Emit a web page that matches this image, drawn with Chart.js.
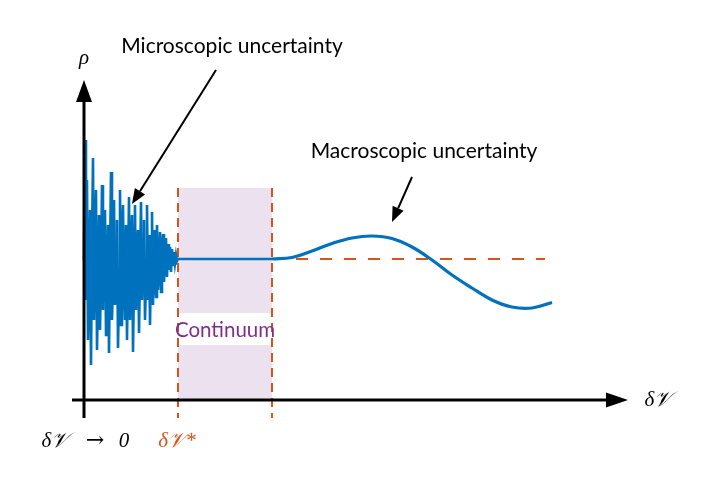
<!DOCTYPE html>
<html>
<head>
<meta charset="utf-8">
<script src="https://cdn.jsdelivr.net/npm/chart.js@4/dist/chart.umd.min.js"></script>
<style>
  html, body { margin: 0; padding: 0; background: #fff; }
  canvas { display: block; }
</style>
</head>
<body>
<canvas id="grafico" width="714" height="485"></canvas>
<script>
// ruido microscopico (passo de 0.1 em dV, de 0 ate 9.4)
const passoRuido = 0.1;
const ruidoY = [
  14, 26, 10, 22, 6, 12, 19, 3.5, 16, 24.2,
  8, 15, 21, 5, 11, 18.5, 7, 13, 21.5, 9,
  17, 19, 6.5, 12, 17.5, 4.7, 14, 22.8, 8, 12,
  20, 9.5, 15, 18, 5.2, 11, 21, 7.5, 16, 19.5,
  11, 8, 17.5, 6, 13, 20.3, 8, 15, 18.5, 4.8,
  12, 19.5, 9, 14, 17, 6.7, 13, 19.8, 10, 15,
  18, 8, 12, 19.5, 10, 16.5, 7.5, 14, 18.8, 9.5,
  17, 12, 10.3, 17.5, 11, 13, 16.8, 10.8, 15, 16.6,
  11.8, 14, 16.2, 12.3, 15.6, 13, 15.3, 12.8, 15.1, 13.5,
  14.8, 13.7, 14.5, 13.9, 14.1
];

// curva macroscopica (depois do continuo)
const curvaX = [18.8, 20.8, 22.8, 24.8, 26.8, 28.8, 30.8, 32.8, 34.8, 36.8, 38.8, 40.8, 42.8, 44.8, 46.8];
const curvaY = [14.1, 14.25, 14.9, 15.65, 16.2, 16.4, 16.15, 15.3, 14.0, 12.5, 11.2, 10.0, 9.3, 9.2, 9.75];

const nivelMedio = 14.1;
const dvEstrela = 9.4;
const dvFimContinuo = 18.8;
const fimTracejado = 46.1;
const faixaCima = [8.7, 21.2];
const faixaBaixo = [0, 5.5];

const azul = '#0072BD';
const laranja = '#D95319';
const roxo = '#7E2F8E';
const lilas = '#ECE1EF';

const pontosRuido = ruidoY.map((y, i) => ({ x: +(i * passoRuido).toFixed(2), y }));
pontosRuido.push({ x: dvFimContinuo, y: nivelMedio });
const pontosCurva = curvaX.map((x, i) => ({ x, y: curvaY[i] }));

function seta(ctx, x0, y0, x1, y1, comp, larg) {
  const ang = Math.atan2(y1 - y0, x1 - x0);
  const bx = x1 - Math.cos(ang) * comp, by = y1 - Math.sin(ang) * comp;
  ctx.beginPath();
  ctx.moveTo(x0, y0);
  ctx.lineTo(bx, by);
  ctx.stroke();
  ctx.beginPath();
  ctx.moveTo(x1, y1);
  ctx.lineTo(bx - Math.sin(ang) * larg, by + Math.cos(ang) * larg);
  ctx.lineTo(bx + Math.sin(ang) * larg, by - Math.cos(ang) * larg);
  ctx.closePath();
  ctx.fill();
}

const anotacoes = {
  id: 'anotacoes',
  afterDatasetsDraw(chart) {
    const ctx = chart.ctx;
    const sx = chart.scales.x, sy = chart.scales.y;
    const px = v => sx.getPixelForValue(v);
    const py = v => sy.getPixelForValue(v);
    ctx.save();
    ctx.fillStyle = '#000';
    ctx.strokeStyle = '#000';

    // setas dos eixos
    ctx.lineWidth = 3;
    seta(ctx, px(-1.2), py(0), px(54.4), py(0), 22, 7.5);
    seta(ctx, px(0), py(-1.8), px(0), py(32), 22, 8);

    // setas das anotacoes
    ctx.lineWidth = 2;
    seta(ctx, px(13.2), py(33.0), px(4.8), py(19.6), 15, 6);
    seta(ctx, px(32.8), py(22.3), px(30.8), py(17.8), 15, 6);

    ctx.textAlign = 'center';
    ctx.textBaseline = 'middle';
    ctx.font = '21px Lato';
    ctx.fillText('Microscopic uncertainty', px(14.8), py(35.4));
    ctx.fillText('Macroscopic uncertainty', px(34), py(24.9));

    ctx.fillStyle = roxo;
    ctx.font = '20.5px Lato';
    ctx.fillText('Continuum', px(14.1), py(7.0));

    ctx.fillStyle = '#000';
    ctx.font = 'italic 21px "Liberation Serif"';
    ctx.fillText('ρ', px(0), py(34.2));
    ctx.fillText('δ𝒱', px(57.4), py(0));
    ctx.fillText('δ𝒱', px(-2.9), py(-4.1));
    ctx.fillText('0', px(4.0), py(-4.1));
    ctx.font = '22px "DejaVu Serif"';
    ctx.fillText('→', px(1.1), py(-4.1));
    ctx.font = 'italic 21px "Liberation Serif"';
    ctx.fillStyle = laranja;
    ctx.fillText('δ𝒱*', px(dvEstrela - 0.1), py(-4.1));
    ctx.restore();
  }
};

new Chart(document.getElementById('grafico').getContext('2d'), {
  type: 'scatter',
  data: {
    datasets: [
      {
        data: pontosRuido, showLine: true, borderColor: azul, borderWidth: 2.6,
        pointRadius: 0, tension: 0, order: 1
      },
      {
        data: pontosCurva, showLine: true, borderColor: azul, borderWidth: 3.2,
        pointRadius: 0, tension: 0.4, order: 1
      },
      {
        data: [{ x: dvFimContinuo, y: nivelMedio }, { x: fimTracejado, y: nivelMedio }],
        showLine: true, borderColor: laranja, borderWidth: 2, borderDash: [12, 12],
        pointRadius: 0, order: 3
      },
      {
        data: [{ x: dvEstrela, y: faixaCima[1] }, { x: dvEstrela, y: -1.8 }],
        showLine: true, borderColor: laranja, borderWidth: 2, borderDash: [9, 6],
        pointRadius: 0, order: 3
      },
      {
        data: [{ x: dvFimContinuo, y: faixaCima[1] }, { x: dvFimContinuo, y: -1.8 }],
        showLine: true, borderColor: laranja, borderWidth: 2, borderDash: [9, 6],
        pointRadius: 0, order: 3
      },
      {
        data: [{ x: dvEstrela, y: faixaCima[1] }, { x: dvFimContinuo, y: faixaCima[1] }],
        showLine: true, borderWidth: 0, borderColor: 'rgba(0,0,0,0)', backgroundColor: lilas,
        fill: { value: faixaCima[0] }, pointRadius: 0, order: 5
      },
      {
        data: [{ x: dvEstrela, y: faixaBaixo[1] }, { x: dvFimContinuo, y: faixaBaixo[1] }],
        showLine: true, borderWidth: 0, borderColor: 'rgba(0,0,0,0)', backgroundColor: lilas,
        fill: { value: faixaBaixo[0] }, pointRadius: 0, order: 5
      }
    ]
  },
  options: {
    responsive: false,
    animation: false,
    devicePixelRatio: 1,
    layout: { padding: 0 },
    plugins: { legend: { display: false }, tooltip: { enabled: false } },
    scales: {
      x: { type: 'linear', display: false, min: -8.4, max: 63 },
      y: { type: 'linear', display: false, min: -8.5, max: 40 }
    }
  },
  plugins: [anotacoes]
});
</script>
</body>
</html>
